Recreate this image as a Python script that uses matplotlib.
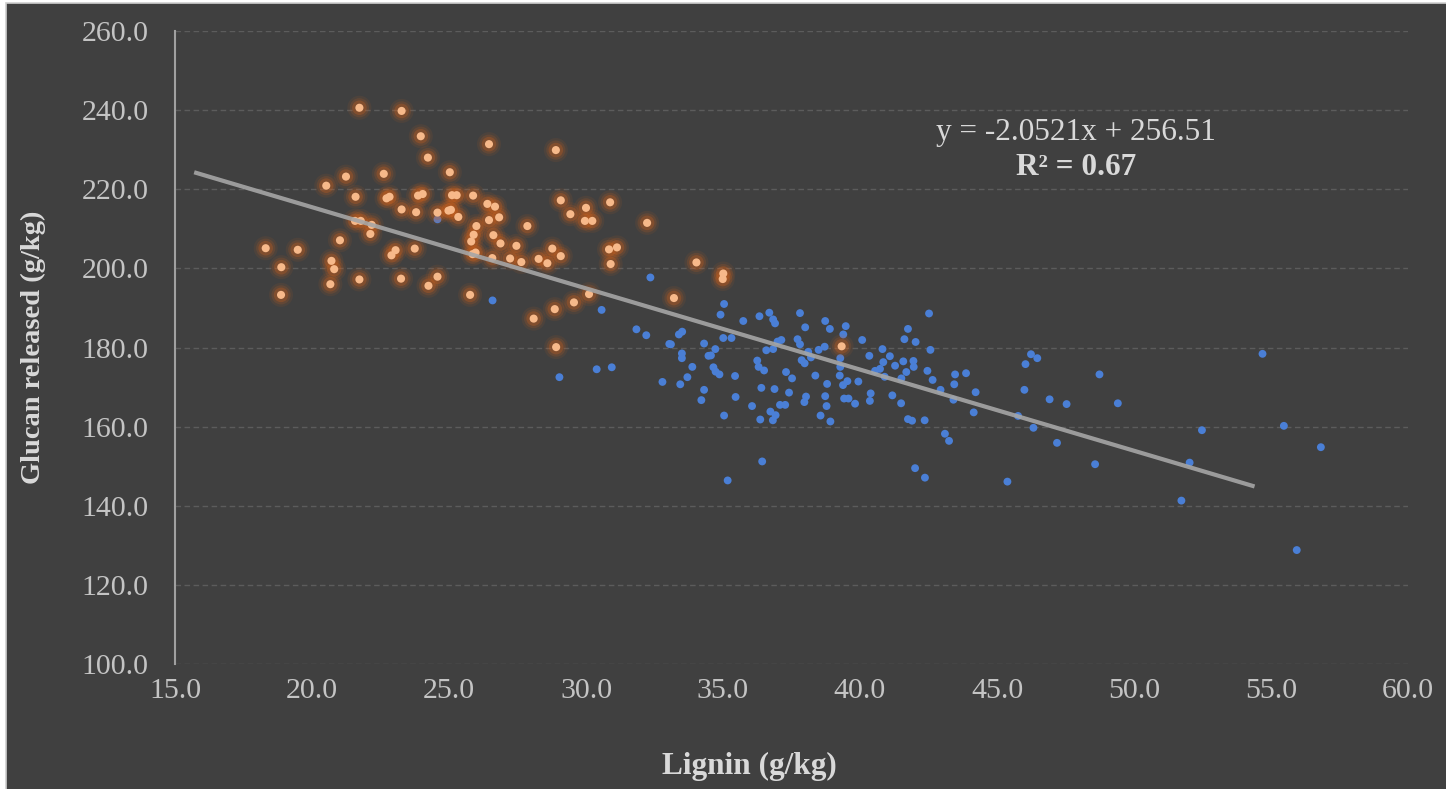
"""Scatter of glucan release against lignin content with a linear trendline."""

import matplotlib
matplotlib.use("Agg")
import matplotlib.pyplot as plt
from matplotlib.patches import Rectangle
import numpy as np

plt.rcParams.update({
    "font.family": "Liberation Serif",
    "figure.dpi": 100,
})

# Low-lignin group (orange, glowing markers)
low_lignin = [21.73, 23.27, 23.97, 24.23, 25.03, 21.24, 22.62, 20.52, 21.59, 22.72,
              22.83, 23.87, 24.04, 25.11, 25.28, 23.27, 23.80, 24.58, 24.98, 25.07,
              25.34, 21.57, 21.78, 22.18, 22.13, 21.02, 18.31, 19.48, 22.90, 23.05,
              23.75, 18.88, 20.71, 20.81, 20.67, 21.73, 23.25, 24.25, 24.58, 18.87,
              25.77, 26.46, 28.90, 25.88, 26.40, 26.68, 26.46, 26.83, 26.00, 25.90,
              25.81, 25.86, 25.97, 26.62, 26.88, 26.58, 27.23, 27.46, 27.64, 27.86,
              28.27, 28.59, 28.77, 29.08, 29.08, 29.43, 30.00, 29.96, 30.23, 30.88,
              32.23, 30.84, 31.13, 30.90, 30.11, 29.56, 28.86, 28.09, 28.91, 34.03,
              33.21, 35.01, 34.99, 39.33]
low_glucan = [240.6, 239.8, 233.4, 228.0, 224.3, 223.2, 223.9, 220.9, 218.1, 217.7,
              218.1, 218.4, 218.8, 218.5, 218.5, 214.9, 214.2, 214.1, 214.6, 214.8,
              213.0, 212.0, 212.0, 211.0, 208.7, 207.1, 205.1, 204.7, 203.3, 204.6,
              205.0, 200.3, 201.9, 199.8, 196.0, 197.2, 197.4, 195.6, 197.9, 193.3,
              193.3, 231.4, 229.9, 218.4, 216.3, 215.6, 212.2, 212.9, 210.7, 208.5,
              206.8, 203.6, 204.0, 208.4, 206.3, 202.6, 202.5, 205.7, 201.6, 210.7,
              202.4, 201.3, 205.0, 203.1, 217.2, 213.7, 215.3, 212.0, 212.0, 216.7,
              211.5, 204.8, 205.3, 201.1, 193.5, 191.4, 189.7, 187.3, 180.1, 201.5,
              192.5, 198.7, 197.3, 180.3]

# High-lignin group (blue markers)
high_lignin = [24.58, 26.59, 32.35, 31.84, 32.20, 33.04, 30.39, 30.94, 30.57, 29.03,
               32.79, 33.10, 33.39, 33.51, 33.50, 33.50, 33.88, 33.70, 33.44, 34.31,
               34.47, 34.56, 34.72, 34.65, 34.73, 34.87, 34.31, 34.21, 34.91, 35.04,
               35.01, 35.31, 35.44, 35.46, 35.04, 35.74, 36.43, 35.17, 36.33, 36.69,
               36.83, 36.90, 36.99, 37.13, 36.58, 36.83, 36.25, 36.30, 36.50, 36.06,
               36.40, 36.88, 36.36, 36.73, 36.92, 36.82, 37.08, 37.27, 37.30, 37.52,
               37.41, 37.81, 38.00, 37.72, 37.81, 37.87, 37.98, 38.11, 38.21, 38.03,
               37.97, 38.37, 38.49, 38.71, 38.73, 38.90, 38.80, 38.73, 38.78, 38.56,
               38.92, 39.48, 39.39, 39.28, 39.28, 39.26, 39.38, 39.54, 39.42, 39.58,
               39.82, 39.94, 40.08, 40.34, 40.39, 40.36, 40.55, 40.73, 40.85, 40.90,
               40.82, 41.09, 41.28, 41.18, 42.52, 41.75, 41.62, 42.03, 41.58, 41.95,
               41.96, 41.69, 41.51, 42.46, 42.65, 42.57, 42.94, 43.47, 43.87, 43.44,
               43.41, 44.22, 44.15, 41.50, 41.75, 41.90, 42.36, 43.10, 43.25, 42.01,
               42.37, 45.38, 46.04, 46.24, 46.47, 46.00, 45.77, 46.33, 46.92, 47.54,
               47.19, 48.74, 49.41, 48.58, 54.69, 52.48, 55.47, 56.82, 52.03, 51.73,
               55.94]
high_glucan = [212.4, 191.9, 197.7, 184.6, 183.1, 180.9, 174.5, 175.0, 189.5, 172.5,
               171.3, 180.8, 183.3, 184.0, 178.5, 177.3, 175.1, 172.5, 170.7, 181.0,
               177.9, 178.0, 179.6, 175.0, 173.9, 173.2, 169.3, 166.7, 188.3, 191.0,
               182.4, 182.4, 172.8, 167.5, 162.8, 186.7, 151.2, 146.4, 187.9, 188.8,
               187.1, 186.1, 181.5, 181.9, 179.3, 179.6, 176.7, 175.1, 174.2, 165.2,
               169.8, 169.5, 161.8, 163.8, 162.9, 161.6, 165.5, 165.5, 173.8, 172.2,
               168.6, 188.7, 185.1, 182.1, 180.8, 176.8, 176.0, 178.9, 177.5, 167.6,
               166.2, 172.9, 179.4, 180.2, 186.7, 184.7, 170.8, 167.7, 165.2, 162.8,
               161.3, 185.4, 183.3, 177.3, 175.1, 172.9, 170.5, 171.5, 167.1, 167.1,
               165.8, 171.4, 181.9, 177.9, 168.4, 166.5, 174.1, 174.6, 176.3, 172.6,
               179.6, 177.8, 175.4, 167.9, 188.6, 184.7, 182.1, 181.4, 176.5, 176.6,
               175.1, 173.8, 172.2, 174.1, 171.8, 179.4, 169.3, 173.2, 173.5, 170.7,
               166.8, 168.7, 163.6, 165.9, 161.9, 161.5, 161.6, 158.2, 156.4, 149.5,
               147.1, 146.1, 175.8, 178.3, 177.3, 169.3, 162.7, 159.7, 166.9, 165.7,
               155.9, 173.2, 165.9, 150.5, 178.4, 159.1, 160.2, 154.8, 150.9, 141.3,
               128.8]

# Trendline as reported on the chart
slope, intercept = -2.0521, 256.51
r_squared = 0.67
trend_x = [15.7, 54.4]

x_ticks = [15, 20, 25, 30, 35, 40, 45, 50, 55, 60]
y_ticks = [100, 120, 140, 160, 180, 200, 220, 240, 260]

BG = "#404040"
TEXT = "#d9d9d9"
TICK = "#c4c4c4"

fig = plt.figure(figsize=(14.46, 7.89), facecolor="white")
# dark chart area with a thin light frame
fig.patches.append(Rectangle((6.5 / 1446, -0.01), 1.02, 1 - 2.5 / 789 + 0.01,
                             transform=fig.transFigure, facecolor=BG,
                             edgecolor="#cfcfcf", linewidth=1.2, zorder=-10))

ax = fig.add_axes([175 / 1446, 1 - 664 / 789, 1233 / 1446, 633 / 789])
ax.set_facecolor(BG)

# horizontal dashed gridlines
ax.grid(True, axis="y", color="#5c5c5c", linestyle=(0, (4, 2.5)), linewidth=1.0)
ax.set_axisbelow(True)

# blue series
ax.scatter(high_lignin, high_glucan, s=32, color="#4a7fd6", edgecolors="none", zorder=3)

# orange series with a soft glow behind each marker
for size, alpha in [(300, 0.09), (190, 0.16), (110, 0.28)]:
    ax.scatter(low_lignin, low_glucan, s=size, color="#d4621a", alpha=alpha,
               edgecolors="none", zorder=4)
ax.scatter(low_lignin, low_glucan, s=34, color="#f7b98a", edgecolors="none", zorder=5)

# linear trendline
tx = np.array(trend_x)
ax.plot(tx, slope * tx + intercept, color="#a6a6a6", linewidth=3.0, alpha=0.9,
        solid_capstyle="butt", zorder=6)

ax.text(0.731, 0.839, f"y = {slope:.4f}x + {intercept:.2f}", transform=ax.transAxes,
        ha="center", va="center", fontsize=22.5, color=TEXT)
ax.text(0.731, 0.785, f"R² = {r_squared:.2f}", transform=ax.transAxes,
        ha="center", va="center", fontsize=22.5, color=TEXT, fontweight="bold")

ax.set_xlim(15, 60)
ax.set_ylim(100, 260)
ax.set_xticks(x_ticks)
ax.set_yticks(y_ticks)
ax.set_xticklabels([f"{v:.1f}" for v in x_ticks])
ax.set_yticklabels([f"{v:.1f}" for v in y_ticks])
ax.tick_params(axis="both", length=0, labelsize=21.5, colors=TICK)
ax.tick_params(axis="y", pad=19)
ax.tick_params(axis="x", pad=10)

for side in ["top", "right", "bottom"]:
    ax.spines[side].set_visible(False)
ax.spines["left"].set_color("#a0a0a0")
ax.spines["left"].set_linewidth(1.5)

ax.set_xlabel("Lignin (g/kg)", fontsize=22.5, fontweight="bold", color=TEXT)
ax.set_ylabel("Glucan released (g/kg)", fontsize=20.5, fontweight="bold", color=TEXT)
ax.xaxis.set_label_coords(0.466, -0.139)
ax.yaxis.set_label_coords(-0.105, 0.5)

fig.savefig("out.png", dpi=100, facecolor=fig.get_facecolor())
plt.close(fig)
